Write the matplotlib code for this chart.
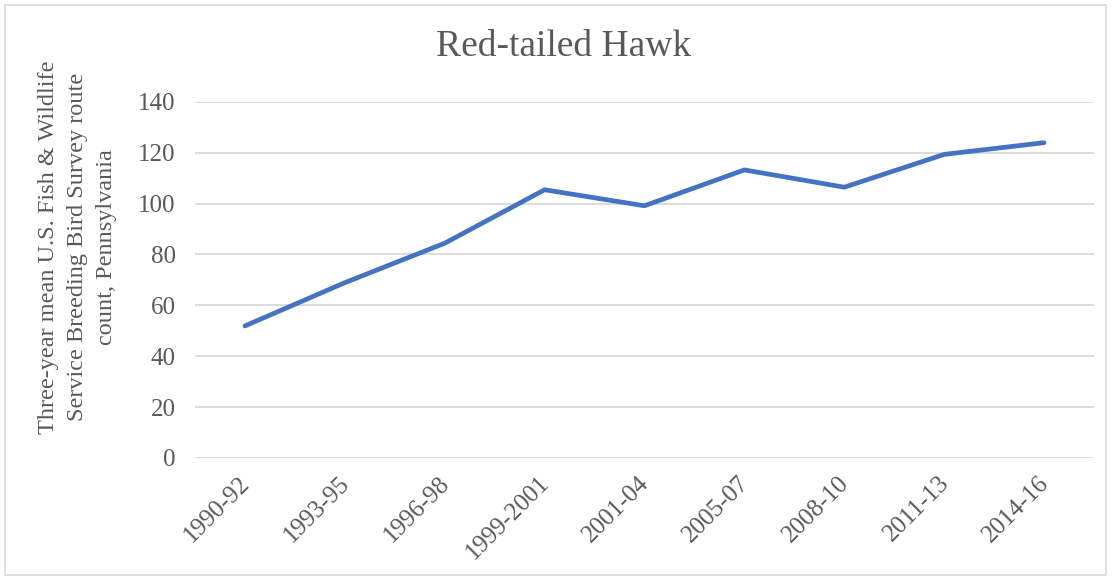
import matplotlib.pyplot as plt
from matplotlib.patches import Rectangle
from matplotlib.transforms import ScaledTranslation

# 데이터
periods = ["1990-92", "1993-95", "1996-98", "1999-2001", "2001-04",
           "2005-07", "2008-10", "2011-13", "2014-16"]
counts = [51.9, 68.9, 84.4, 105.4, 99.1, 113.2, 106.4, 119.3, 123.9]
y_ticks = [0, 20, 40, 60, 80, 100, 120, 140]

plt.rcParams['font.family'] = ['Liberation Serif', 'DejaVu Serif']
text_color = '#595959'

fig = plt.figure(figsize=(11.12, 5.8), dpi=100)
ax = fig.add_axes([195 / 1112, 1 - 458 / 580, (1094 - 195) / 1112, (458 - 101.7) / 580])

x = list(range(len(periods)))
ax.plot(x, counts, color='#4472C4', linewidth=3.4, solid_capstyle='round', solid_joinstyle='round')

ax.set_xlim(-0.5, len(periods) - 0.5)
ax.set_ylim(0, 140)
ax.set_yticks(y_ticks)
ax.set_xticks(x)
ax.set_xticklabels(periods, rotation=45, ha='right', va='top')
ax.grid(axis='y', color='#D9D9D9', linewidth=1.3)
ax.set_axisbelow(True)
for s in ax.spines.values():
    s.set_visible(False)
ax.tick_params(axis='y', length=0, pad=14, labelsize=18, labelcolor=text_color)
ax.tick_params(axis='x', length=0, pad=10, labelsize=18, labelcolor=text_color)

# x 라벨 약간 오른쪽으로 이동
for lbl in ax.get_xticklabels():
    lbl.set_transform(lbl.get_transform() + ScaledTranslation(9 / 100, 0, fig.dpi_scale_trans))

fig.text(564 / 1112, 1 - 47 / 580, "Red-tailed Hawk", ha='center', va='center',
         fontsize=27, color=text_color)
fig.text(78 / 1112, 1 - 247 / 580,
         "Three-year mean U.S. Fish & Wildlife\nService Breeding Bird Survey route\ncount, Pennsylvania",
         rotation=90, ha='center', va='center', multialignment='center',
         fontsize=17.5, color=text_color, linespacing=1.5)

# 바깥 테두리
fig.patches.append(Rectangle((5 / 1112, 5 / 580), 1101 / 1112, 570 / 580,
                             transform=fig.transFigure, fill=False,
                             edgecolor='#D9D9D9', linewidth=1.2))

plt.savefig("out.png", dpi=100)
